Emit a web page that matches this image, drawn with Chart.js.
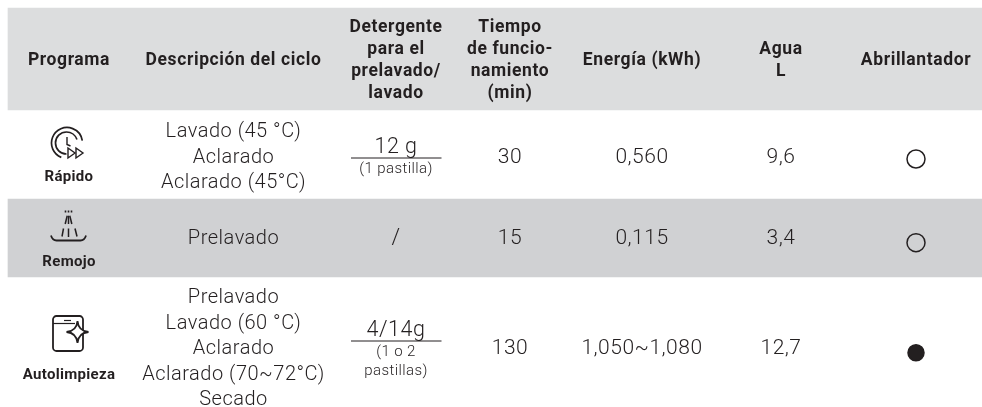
<!DOCTYPE html>
<html lang="es">
<head>
<meta charset="utf-8">
<title>Programas</title>
<script src="https://cdn.jsdelivr.net/npm/chart.js@4/dist/chart.umd.min.js"></script>
<style>
html, body { margin: 0; padding: 0; background: #fff; }
canvas { display: block; }
</style>
</head>
<body>
<canvas id="tabla" width="982" height="407"></canvas>
<script>
// datos de la tabla
const cabeceras = [['Programa'], ['Descripción del ciclo'], ['Detergente', 'para el', 'prelavado/', 'lavado'],
    ['Tiempo', 'de funcio-', 'namiento', '(min)'], ['Energía (kWh)'], ['Agua', 'L'], ['Abrillantador']];
const programas = ['Rápido', 'Remojo', 'Autolimpieza'];
const ciclos = [
    ['Lavado (45 °C)', 'Aclarado', 'Aclarado (45°C)'],
    ['Prelavado'],
    ['Prelavado', 'Lavado (60 °C)', 'Aclarado', 'Aclarado (70~72°C)', 'Secado']
];
const detergente = ['12 g', '/', '4/14g'];
const pastillas = [['(1 pastilla)'], [], ['(1 o 2', 'pastillas)']];
const tiempo = [30, 15, 130];
const energia = ['0,560', '0,115', '1,050~1,080'];
const agua = ['9,6', '3,4', '12,7'];
const abrillantador = [false, false, true];

// maquetación, en unidades de los ejes
const colX = [69, 233.5, 396, 510, 642, 781, 916];
const filaY = [156.5, 238, 348];
const circuloY = [159, 242.7, 352.7];
const filaBandas = [[8, 110, '#dcddde'], [199, 277, '#d0d1d3']];
const tinta = '#231f20';

const puntos = abrillantador.map((v, i) => ({ x: colX[6], y: circuloY[i] }));
const reglaY = [158, null, 341];

function texto(ctx, s, x, y, fuente, espacio) {
    ctx.font = fuente;
    ctx.letterSpacing = (espacio || 0) + 'px';
    ctx.fillText(s, x, y + 1);
}

function iconoRapido(ctx, cx, cy) {
    ctx.lineWidth = 1.7;
    ctx.beginPath(); ctx.arc(cx, cy, 15.5, Math.PI * 0.62, Math.PI * 1.95); ctx.stroke();
    ctx.beginPath(); ctx.arc(cx - 0.5, cy, 11, Math.PI * 0.5, Math.PI * 1.9); ctx.stroke();
    ctx.lineWidth = 1.4;
    ctx.beginPath(); ctx.moveTo(cx, cy - 6); ctx.lineTo(cx, cy + 1.5); ctx.lineTo(cx + 3.5, cy + 3); ctx.stroke();
    [[cx + 1, 0], [cx + 9, 1]].forEach(p => {
        ctx.beginPath();
        ctx.moveTo(p[0], cy + 5);
        ctx.lineTo(p[0] + 7, cy + 10);
        ctx.lineTo(p[0], cy + 15);
        ctx.closePath();
        ctx.stroke();
    });
}

function iconoRemojo(ctx, cx, cy) {
    ctx.lineWidth = 1.5;
    const trazos = [[-1.3, -8.3, -3.3, 0], [0, -8.3, 0, 0], [1.3, -8.3, 3.3, 0],
        [-5, 4.5, -6.5, 12.5], [0, 4.5, 0, 13], [6.5, 4.5, 8.5, 12.5]];
    trazos.forEach(t => {
        ctx.beginPath(); ctx.moveTo(cx + t[0], cy + t[1]); ctx.lineTo(cx + t[2], cy + t[3]); ctx.stroke();
    });
    [-3, 0, 3].forEach(d => ctx.fillRect(cx + d - 0.8, cy - 13.5, 1.6, 2));
    ctx.lineWidth = 1.8;
    ctx.beginPath();
    ctx.moveTo(cx - 17.5, cy + 11.5);
    ctx.quadraticCurveTo(cx - 16, cy + 16.5, cx - 12, cy + 16.5);
    ctx.lineTo(cx + 12, cy + 16.5);
    ctx.quadraticCurveTo(cx + 16, cy + 16.5, cx + 17.5, cy + 11.5);
    ctx.stroke();
}

function iconoAuto(ctx, cx, cy) {
    ctx.lineWidth = 1.8;
    ctx.beginPath();
    ctx.roundRect(cx - 15, cy - 17, 30, 35, 3.5);
    ctx.stroke();
    ctx.lineWidth = 1.2;
    ctx.beginPath(); ctx.moveTo(cx - 15, cy - 9.5); ctx.lineTo(cx + 7, cy - 9.5); ctx.stroke();
    ctx.beginPath(); ctx.moveTo(cx - 4, cy - 12.5); ctx.lineTo(cx + 3, cy - 12.5); ctx.stroke();
    // estrella de cuatro puntas
    const sx = cx + 9.5, sy = cy - 1, r = 11, k = 3;
    ctx.lineWidth = 1.8;
    ctx.fillStyle = '#fff';
    ctx.beginPath();
    ctx.moveTo(sx, sy - r);
    ctx.quadraticCurveTo(sx + k * 0.3, sy - k * 0.3, sx + r, sy);
    ctx.quadraticCurveTo(sx + k * 0.3, sy + k * 0.3, sx, sy + r);
    ctx.quadraticCurveTo(sx - k * 0.3, sy + k * 0.3, sx - r, sy);
    ctx.quadraticCurveTo(sx - k * 0.3, sy - k * 0.3, sx, sy - r);
    ctx.closePath();
    ctx.fill();
    ctx.stroke();
    ctx.fillStyle = tinta;
}

const textosPlugin = {
    id: 'textos',
    afterDatasetsDraw(chart) {
        const ctx = chart.ctx;
        const px = v => chart.scales.x.getPixelForValue(v);
        const py = v => chart.scales.y.getPixelForValue(v);
        const cuerpo = '300 20px Roboto';
        const cifras = '300 21px Roboto';
        const negrita = '700 17.5px Roboto';
        ctx.save();
        ctx.fillStyle = tinta;
        ctx.strokeStyle = tinta;
        ctx.textAlign = 'center';
        ctx.textBaseline = 'middle';

        cabeceras.forEach((lineas, c) => {
            lineas.forEach((s, i) => {
                const y = 59.5 + (i - (lineas.length - 1) / 2) * 22;
                texto(ctx, s, px(colX[c]), py(y), negrita, 0.6);
            });
        });

        programas.forEach((s, f) => {
            texto(ctx, s, px(colX[0]), py([176.5, 261.5, 374][f]), '700 15px Roboto', 0.3);
        });

        ciclos.forEach((lineas, f) => {
            lineas.forEach((s, i) => {
                const y = filaY[f] + (i - (lineas.length - 1) / 2) * 25.5;
                texto(ctx, s, px(colX[1]), py(y), cuerpo, 0.5);
            });
        });

        detergente.forEach((s, f) => {
            const y = reglaY[f] === null ? filaY[f] : reglaY[f] - 11;
            texto(ctx, s, px(colX[2]), py(y), '300 21.5px Roboto', 0.5);
            pastillas[f].forEach((p, i) => {
                texto(ctx, p, px(colX[2]), py(reglaY[f] + 10 + i * 19.5), '300 15px Roboto', 0.4);
            });
        });

        filaY.forEach((y, f) => {
            texto(ctx, String(tiempo[f]), px(colX[3]), py(y), cifras, 0.5);
            texto(ctx, energia[f], px(colX[4]), py(y), cifras, 0.5);
            texto(ctx, agua[f], px(colX[5]), py(y), cifras, 0.5);
        });

        iconoRapido(ctx, px(67), py(143));
        iconoRemojo(ctx, px(68.5), py(224));
        iconoAuto(ctx, px(68), py(333));
        ctx.restore();
    }
};

new Chart(document.getElementById('tabla').getContext('2d'), {
    type: 'bar',
    data: {
        datasets: [
            {
                type: 'bar',
                order: 3,
                data: filaBandas.map(b => ({ x: 495, y: [b[0], b[1]] })),
                backgroundColor: filaBandas.map(b => b[2]),
                barThickness: 974,
                borderWidth: 0
            },
            {
                type: 'scatter',
                order: 2,
                showLine: true,
                spanGaps: false,
                data: [
                    { x: 351, y: reglaY[0] }, { x: 441.5, y: reglaY[0] }, { x: 351, y: null },
                    { x: 351, y: reglaY[2] }, { x: 441.5, y: reglaY[2] }
                ],
                borderColor: tinta,
                borderWidth: 1,
                pointRadius: 0
            },
            {
                type: 'scatter',
                order: 1,
                data: puntos,
                pointStyle: 'circle',
                pointRadius: abrillantador.map(v => v ? 8 : 9),
                pointBorderWidth: 1.5,
                pointBorderColor: tinta,
                pointBackgroundColor: abrillantador.map(v => v ? tinta : 'rgba(0,0,0,0)')
            }
        ]
    },
    options: {
        responsive: false,
        animation: false,
        events: [],
        layout: { padding: 0, autoPadding: false },
        plugins: { legend: { display: false }, tooltip: { enabled: false }, title: { display: false } },
        scales: {
            x: { type: 'linear', display: false, min: 0, max: 982, offset: false },
            y: { type: 'linear', display: false, min: 0, max: 407, reverse: true }
        }
    },
    plugins: [textosPlugin]
});
</script>
</body>
</html>
